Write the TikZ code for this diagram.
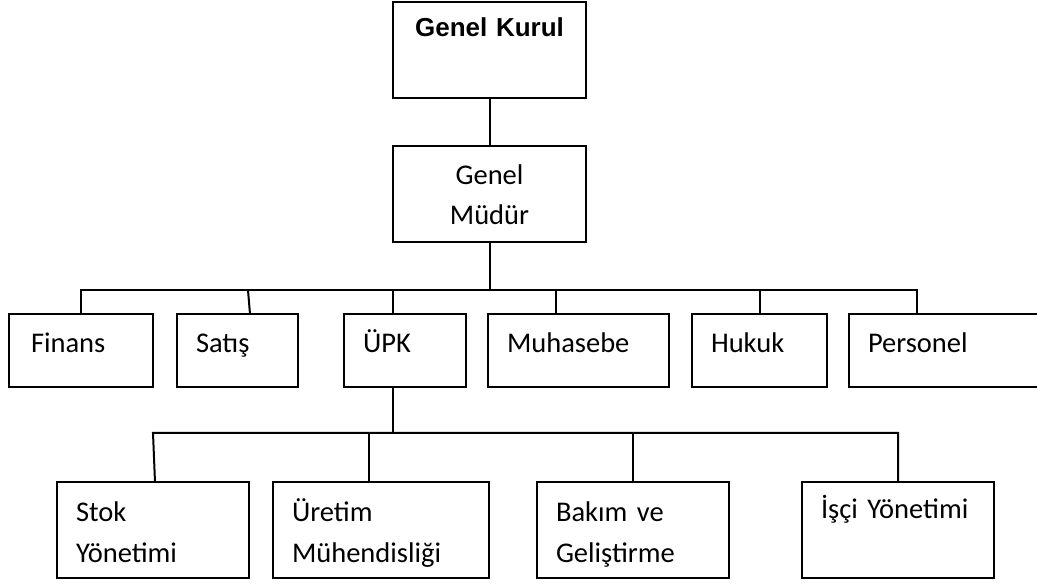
\documentclass[tikz,border=0pt]{standalone}
\usepackage{fontspec}
\setmainfont{Carlito}
\newfontfamily\headfont{Liberation Sans}
\begin{document}
\begin{tikzpicture}[x=1pt,y=-1pt,
  box/.style={draw, line width=2pt, rectangle, outer sep=0pt,
    inner xsep=19pt, inner ysep=0pt, anchor=north west, align=left,
    text height=39pt, font=\fontsize{28.5}{41}\selectfont},
  shortbox/.style={box, text depth=34pt},
  tallbox/.style={box, text depth=57pt},
  link/.style={line width=2pt}]
\useasboundingbox (0,0) rectangle (1037,585);

% top of the hierarchy
\node[tallbox, align=center, text width=155pt, text height=35pt, text depth=61pt,
      font=\headfont\bfseries\fontsize{26}{40}\selectfont] (gk) at (393,2) {Genel Kurul};
\node[tallbox, align=center, text width=155pt,
      font=\fontsize{28.5}{40}\selectfont] (gm) at (393,146) {Genel\\Müdür};

% departments
\node[shortbox, text width=106pt] (fin)  at (9,314)   {\hspace*{3pt}Finans};
\node[shortbox, text width=83pt]  (sat)  at (177,314) {Satış};
\node[shortbox, text width=84pt]  (upk)  at (344,314) {ÜPK};
\node[shortbox, text width=143pt] (muh)  at (488,314) {Muhasebe};
\node[shortbox, text width=97pt]  (huk)  at (692,314) {Hukuk};
\node[shortbox, text width=163pt] (pers) at (849,314) {Personel};

% units under ÜPK
\node[tallbox, text width=154pt] (stok) at (57,482)  {Stok\\Yönetimi};
\node[tallbox, text width=178pt] (uret) at (273,482) {Üretim\\Mühendisliği};
\node[tallbox, text width=154pt] (bak)  at (537,482) {Bakım ve\\Geliştirme};
\node[tallbox, text width=154pt, text height=36pt, text depth=60pt] (isci) at (802,482) {İşçi Yönetimi};

% branch points
\coordinate (hub1) at (gm.south |- 0,290);
\coordinate (hub2) at ([xshift=49pt]upk.south west |- 0,433);

% connectors
\draw[link] (gk.south) -- (gm.north);
\draw[link] (gm.south) -- (hub1);
\draw[link] (fin.north) |- ([xshift=68pt]pers.north west |- hub1) -- ([xshift=68pt]pers.north west);
\draw[link] ([xshift=73pt]sat.north west) -- ([xshift=71pt]sat.north west |- hub1);
\draw[link] ([xshift=49pt]upk.north west) -- ([xshift=49pt]upk.north west |- hub1);
\draw[link] ([xshift=68pt]muh.north west) -- ([xshift=68pt]muh.north west |- hub1);
\draw[link] (huk.north) -- (huk.north |- hub1);

\draw[link] ([xshift=49pt]upk.south west) -- (hub2);
\draw[link] ([xshift=98pt]stok.north west) -- ([xshift=96pt]stok.north west |- hub2) -| (isci.north);
\draw[link] ([xshift=96pt]uret.north west) -- ([xshift=96pt]uret.north west |- hub2);
\draw[link] (bak.north) -- (bak.north |- hub2);
\end{tikzpicture}
\end{document}
